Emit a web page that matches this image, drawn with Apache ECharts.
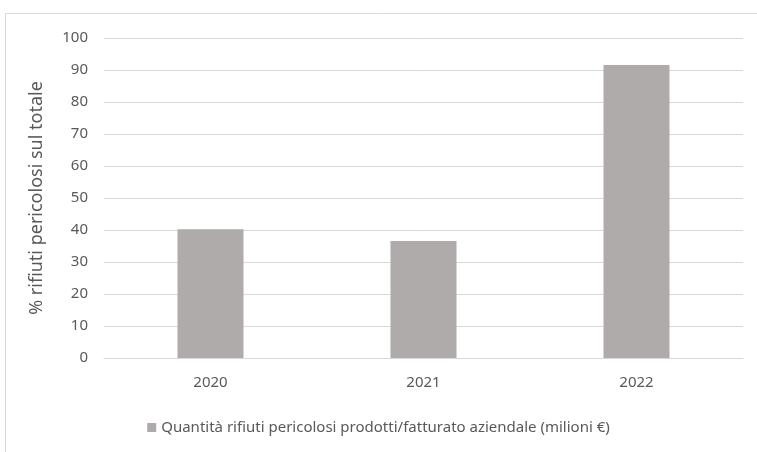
<!DOCTYPE html>
<html>
<head>
<meta charset="utf-8">
<script src="https://cdn.jsdelivr.net/npm/echarts@6/dist/echarts.min.js"></script>
<style>
  html, body { margin: 0; padding: 0; background: #fff; }
  #chart { width: 757px; height: 452px; }
</style>
</head>
<body>
<div id="chart"></div>
<script>
const years = ['2020', '2021', '2022']
const values = [40.2, 36.6, 91.6]
const seriesName = 'Quantità rifiuti pericolosi prodotti/fatturato aziendale (milioni €)'
const axisTitle = '% rifiuti pericolosi sul totale'

const textColor = '#595959'
const font = 'Noto Sans'

const chart = echarts.init(document.getElementById('chart'))

chart.setOption({
  animation: false,
  textStyle: { fontFamily: font },
  graphic: [
    {
      type: 'rect',
      shape: { x: 5.5, y: 13.5, width: 800, height: 500 },
      style: { fill: 'none', stroke: '#d9d9d9', lineWidth: 1 },
      silent: true,
    },
  ],
  grid: { left: 104, right: 14, top: 38, bottom: 94 },
  legend: {
    bottom: 12,
    left: 'center',
    itemWidth: 9,
    itemHeight: 9,
    itemGap: 6,
    icon: 'rect',
    textStyle: { color: textColor, fontSize: 15, fontFamily: font },
  },
  xAxis: {
    type: 'category',
    data: years,
    axisLine: { lineStyle: { color: '#d9d9d9', width: 1 } },
    axisTick: { show: false },
    axisLabel: { color: textColor, fontSize: 15, margin: 17 },
  },
  yAxis: {
    type: 'value',
    min: 0,
    max: 100,
    interval: 10,
    name: axisTitle,
    nameLocation: 'middle',
    nameGap: 58,
    nameTextStyle: { color: textColor, fontSize: 18 },
    axisLine: { show: false },
    axisTick: { show: false },
    axisLabel: { color: textColor, fontSize: 15, margin: 16 },
    splitLine: { lineStyle: { color: '#d9d9d9', width: 1 } },
  },
  series: [
    {
      name: seriesName,
      type: 'bar',
      data: values,
      barWidth: '31%',
      itemStyle: { color: '#afabab' },
    },
  ],
})
</script>
</body>
</html>
